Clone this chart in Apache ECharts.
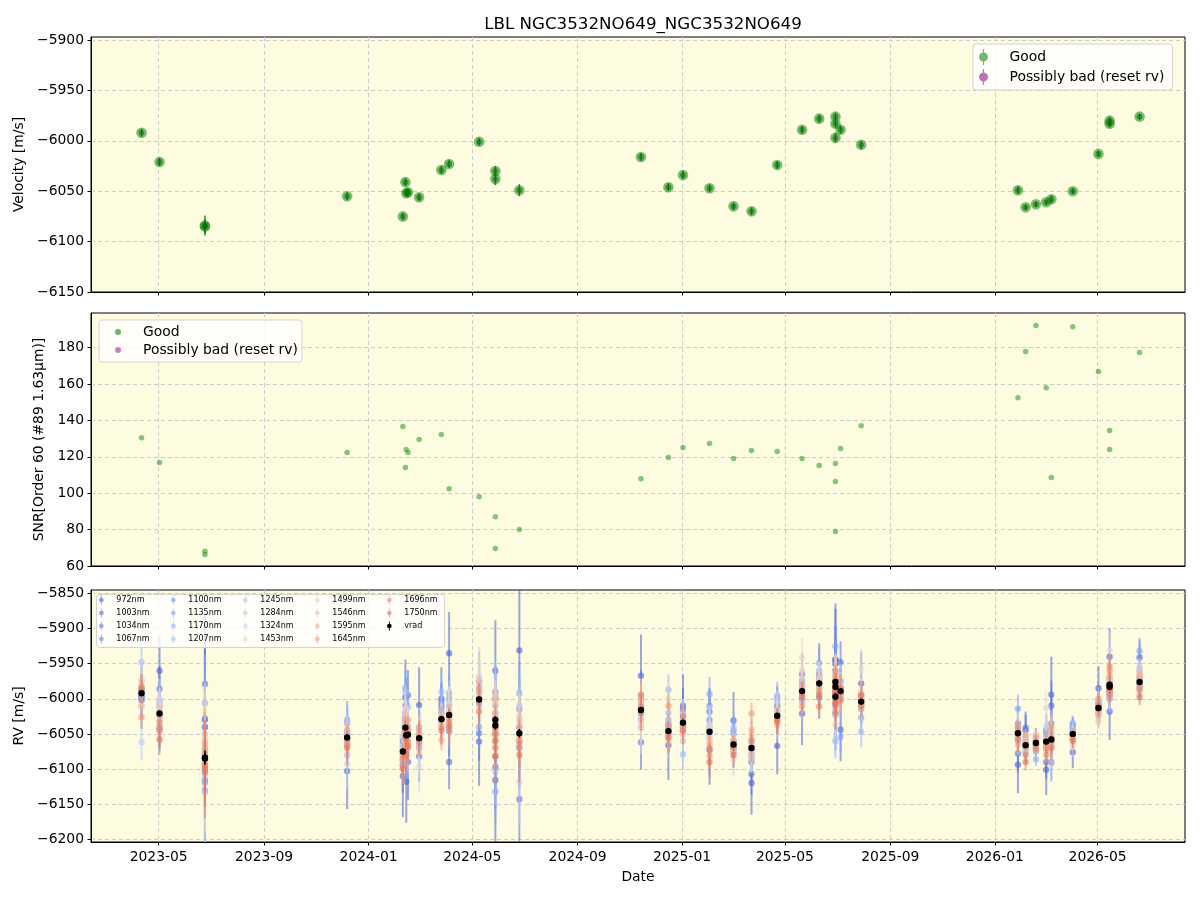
<!DOCTYPE html>
<html>
<head>
<meta charset="utf-8">
<script src="https://cdn.jsdelivr.net/npm/echarts@6/dist/echarts.min.js"></script>
<style>
  html, body { margin: 0; background: #fff; }
  #chart { width: 1200px; height: 900px; }
</style>
</head>
<body>
<div id="chart"></div>
<script>
// observation dates (one per epoch)
const dates = [
  '2023-04-11', '2023-05-02', '2023-06-24', '2023-06-24', '2023-12-07',
  '2024-02-10', '2024-02-13', '2024-02-14', '2024-02-16', '2024-02-29',
  '2024-03-26', '2024-04-04', '2024-05-09', '2024-05-28', '2024-05-28',
  '2024-06-25', '2024-11-14', '2024-12-16', '2025-01-02', '2025-02-02',
  '2025-03-02', '2025-03-23', '2025-04-22', '2025-05-21', '2025-06-10',
  '2025-06-29', '2025-06-29', '2025-06-29', '2025-07-05', '2025-07-29',
  '2026-01-28', '2026-02-06', '2026-02-18', '2026-03-02', '2026-03-08',
  '2026-04-02', '2026-05-02', '2026-05-15', '2026-05-15', '2026-06-19'
];

const vrad = [
  -5992, -6021, -6084, -6085, -6055, -6075, -6041, -6052, -6051, -6056,
  -6029, -6023, -6001, -6030, -6038, -6049, -6016, -6046, -6034, -6047,
  -6065, -6070, -6024, -5989, -5978, -5976, -5983, -5997, -5989, -6004,
  -6049, -6066, -6063, -6061, -6058, -6050, -6013, -5980, -5983, -5976
];
const vradErr = [
  4, 4, 10, 7, 4, 4, 4, 4, 4, 4,
  4, 4, 4, 5, 6, 6, 4, 4, 4, 4,
  4, 4, 4, 4, 4, 4, 4, 5, 4, 4,
  4, 3, 3, 3, 4, 3, 3, 4, 4, 3
];

const snr = [
  130.5, 116.8, 68.1, 66.3, 122.3, 136.6, 114.1, 124.0, 122.3, 129.5,
  132.2, 102.5, 98.1, 87.1, 69.6, 80.0, 108.0, 119.6, 125.1, 127.3,
  119.0, 123.4, 122.9, 119.0, 115.2, 116.3, 106.4, 78.9, 124.5, 137.1,
  152.5, 177.8, 192.1, 158.0, 108.6, 191.5, 166.8, 134.4, 124.0, 177.3
];

// per-band RVs
const bands = ['972nm', '1003nm', '1034nm', '1067nm', '1100nm', '1135nm', '1170nm', '1207nm', '1245nm',
  '1284nm', '1324nm', '1453nm', '1499nm', '1546nm', '1595nm', '1645nm', '1696nm', '1750nm'];
const rv972 = [-5998, -5960, -6040, -6030, -6103, -6110, -5998, -6118, -6090, -6009, -6000, -5935, -6061, -5960, -6116, -5931, -5967, -6066, -6010, -6073, -6031, -6120, -6067, -6021, -5966, -5944, -5950, -5945, -6044, -5978, -6094, -6045, -6065, -6101, -5994, -6076, -5985, -5940, -6018, -5941];
const rv1003 = [-5995, -5986, -5979, -6100, -6060, -6095, -6030, -6008, -5995, -6082, -6010, -6090, -5975, -6000, -6097, -6143, -6062, -6037, -6015, -6018, -6060, -6107, -6010, -5965, -5998, -5960, -5990, -6020, -5948, -6005, -6078, -6041, -6070, -6090, -6010, -6050, -6005, -5975, -5980, -5970];
const rv1034 = [-6002, -6044, -6118, -6080, -6050, -6060, -6020, -6075, -6040, -6050, -6004, -6046, -6049, -6020, -6082, -6070, -5995, -6045, -6025, -6030, -6070, -6090, -6025, -5990, -5985, -5970, -5975, -6005, -5985, -5995, -6040, -6060, -6060, -6045, -6035, -6045, -6015, -5985, -5970, -5985];
const rv1067 = [-5990, -6040, -6028, -6070, -6065, -6088, -6060, -6035, -6060, -6060, -6020, -6010, -5985, -6045, -6050, -6040, -6000, -6050, -6040, -6045, -6075, -6080, -6015, -6000, -5970, -5985, -5995, -5990, -6000, -6010, -6035, -6070, -6055, -6060, -6065, -6040, -6010, -5990, -5995, -5960];
const rv1100 = [-6000, -6010, -6040, -6090, -6030, -6070, -5985, -6060, -6050, -6045, -6015, -6000, -5990, -5990, -6025, -6015, -6010, -6040, -6030, -6010, -6045, -6075, -6020, -5975, -5975, -5950, -5985, -6010, -5975, -6000, -6050, -6065, -6066, -6050, -6050, -6035, -6020, -5980, -5990, -5975];
const rv1135 = [-5985, -6020, -6130, -6115, -6035, -6065, -6010, -6045, -6030, -6070, -6025, -5992, -6040, -6010, -6132, -5992, -6020, -6030, -6045, -5993, -6050, -6060, -5996, -5980, -5949, -5925, -5960, -6000, -6054, -6027, -6014, -6055, -6075, -6055, -6090, -6038, -6008, -5995, -5985, -5932];
const rv1170 = [-5995, -6005, -6006, -6050, -6045, -6080, -6040, -6070, -6066, -6055, -6035, -6020, -6000, -6035, -6060, -6060, -6030, -5987, -6020, -6040, -6065, -6085, -6000, -5995, -5960, -5965, -6060, -6023, -5990, -6015, -6045, -6075, -6086, -6065, -6060, -6045, -6012, -5970, -6000, -5980];
const rv1207 = [-5948, -6015, -6133, -6120, -6080, -6090, -5990, -6050, -6012, -6065, -5990, -6040, -6010, -5995, -6070, -6010, -6040, -6020, -6079, -6055, -6040, -6070, -6005, -6005, -5980, -5990, -5970, -5995, -5985, -6047, -6055, -6060, -6060, -6048, -6092, -6050, -6025, -6000, -5980, -5955];
const rv1245 = [-5975, -6025, -6060, -6075, -6032, -6055, -6045, -6080, -6058, -6040, -6030, -6005, -5980, -6020, -6104, -6030, -6025, -6035, -6060, -6035, -6060, -6065, -6018, -5985, -5972, -5975, -5990, -6010, -5995, -6005, -6060, -6078, -6062, -6070, -6045, -6042, -6010, -5985, -5995, -5990];
const rv1284 = [-6062, -6000, -6100, -6095, -6050, -6075, -6020, -6055, -6040, -6060, -6020, -6015, -5995, -6040, -6035, -6050, -6005, -6055, -6035, -6050, -6070, -6080, -6022, -5995, -5990, -5980, -6000, -5985, -6000, -6010, -6040, -6070, -6058, -6040, -6055, -6055, -6018, -5990, -5975, -5965];
const rv1324 = [-6011, -6030, -6109, -6105, -6093, -6068, -6035, -6040, -6070, -6097, -6040, -6025, -5968, -6025, -6010, -6118, -6015, -6045, -6030, -6045, -6080, -6056, -6030, -5970, -5985, -6037, -5980, -6000, -5980, -6000, -6050, -6065, -6065, -6055, -6060, -6048, -6005, -5975, -5985, -5975];
const rv1453 = [-5972, -6015, -6090, -6085, -6060, -6085, -6015, -6060, -6045, -6075, -6035, -6020, -5970, -6030, -6045, -6045, -6042, -6000, -6040, -6040, -6086, -6075, -6015, -5941, -5975, -5985, -5978, -5998, -5990, -5957, -6045, -6072, -6070, -6013, -6065, -6068, -6020, -5931, -5970, -5960];
const rv1499 = [-5980, -6008, -6050, -6070, -6055, -6080, -6025, -6030, -6055, -6050, -6025, -6008, -5975, -6005, -6020, -6035, -6035, -6050, -6035, -6055, -6075, -6085, -6020, -5960, -5968, -5970, -5985, -6005, -5985, -5990, -6055, -6060, -6060, -6060, -6050, -6052, -6015, -5965, -5975, -5978];
const rv1546 = [-6010, -6030, -6058, -6062, -6065, -6072, -6040, -6048, -6050, -6047, -6030, -6030, -5985, -5998, -6055, -6025, -5998, -6060, -6042, -6060, -6065, -6050, -6025, -5978, -5978, -5962, -5972, -5990, -5992, -5998, -6050, -6062, -6051, -6065, -6055, -6055, -6032, -5970, -5985, -5970];
const rv1595 = [-5982, -6025, -6065, -6088, -6044, -6082, -6030, -6065, -6062, -6040, -6059, -6033, -5990, -6044, -6030, -6055, -6006, -6040, -6051, -6065, -6060, -6044, -6030, -5985, -5985, -5968, -5980, -6000, -5995, -6004, -6065, -6052, -6055, -6073, -6062, -6054, -6022, -5990, -5980, -5965];
const rv1645 = [-6026, -6045, -6075, -6080, -6066, -6095, -6050, -6070, -6052, -6058, -6040, -6028, -6000, -6035, -6069, -6060, -5994, -6010, -6038, -6081, -6070, -6021, -6037, -6011, -5991, -5975, -5992, -6015, -5988, -6008, -6042, -6068, -6068, -6070, -6040, -6058, -6000, -5960, -5995, -5987];
const rv1696 = [-5990, -6034, -6094, -6095, -6058, -6085, -6045, -6058, -6045, -6062, -6028, -6035, -6018, -6050, -6040, -6065, -6012, -6048, -6025, -6070, -6068, -6060, -6028, -5992, -6011, -5980, -5985, -5995, -6003, -6011, -6048, -6080, -6071, -6080, -6058, -6050, -6015, -5954, -5990, -5980];
const rv1750 = [-5985, -6058, -6100, -6105, -6070, -6100, -6055, -6080, -6068, -6055, -6045, -6040, -6005, -6060, -6082, -6080, -6020, -6055, -6045, -6090, -6080, -6070, -6032, -5997, -5995, -5990, -6005, -6008, -5985, -5995, -6058, -6090, -6062, -6062, -6070, -6060, -6010, -5980, -5985, -5997];
const bandRv = [rv972, rv1003, rv1034, rv1067, rv1100, rv1135, rv1170, rv1207, rv1245,
  rv1284, rv1324, rv1453, rv1499, rv1546, rv1595, rv1645, rv1696, rv1750];

// typical error of each band and relative error size of each epoch
const bandErr = [45, 30, 28, 26, 22, 22, 20, 22, 24, 26, 30, 28, 20, 16, 15, 16, 17, 20];
const epochErrScale = [
  1.0, 1.1, 3.5, 2.2, 1.2, 1.3, 1.2, 1.3, 1.2, 1.2,
  1.0, 1.3, 1.4, 1.6, 2.0, 2.0, 1.3, 1.1, 1.0, 1.1,
  0.9, 1.0, 0.9, 1.0, 1.0, 1.6, 1.2, 1.8, 1.0, 1.0,
  0.9, 0.6, 0.5, 0.8, 1.2, 0.5, 0.7, 0.9, 0.9, 0.6
];

const bandColors = ['#4a63d3', '#5470de', '#5d7ce6', '#6788ee', '#7396f5', '#80a3fa', '#8db0fe', '#9bbcff', '#a9c6fd',
  '#b7cff9', '#c5d6f2', '#e6d7cf', '#efcfbf', '#f4c0a6', '#f6ae8f', '#f29b7c', '#eb8a6d', '#e0775f'];

const velTicks = [-6150, -6100, -6050, -6000, -5950, -5900];
const snrTicks = [60, 80, 100, 120, 140, 160, 180];
const rvTicks = [-6200, -6150, -6100, -6050, -6000, -5950, -5900, -5850];
const dateTicks = ['2023-05-01', '2023-09-01', '2024-01-01', '2024-05-01', '2024-09-01',
  '2025-01-01', '2025-05-01', '2025-09-01', '2026-01-01', '2026-05-01'];

function utc(s) {
  const p = s.split('-').map(Number);
  return Date.UTC(p[0], p[1] - 1, p[2]);
}
function rgba(hex, a) {
  const n = parseInt(hex.slice(1), 16);
  return 'rgba(' + (n >> 16) + ',' + ((n >> 8) & 255) + ',' + (n & 255) + ',' + a + ')';
}
const minus = v => (v < 0 ? '\u2212' + Math.abs(v) : String(v));

const tMin = utc('2023-02-11');
const tMax = utc('2026-08-11');
const times = dates.map(utc);
const dateTickVals = dateTicks.map(utc);

const FONT = 'DejaVu Sans';
const gridBg = '#fdfbe0';
const splitStyle = { color: '#cccccc', type: [4, 3], width: 1 };

const grids = [
  { left: 91, top: 37, width: 1094, height: 255 },
  { left: 91, top: 313, width: 1094, height: 253 },
  { left: 91, top: 590, width: 1094, height: 252 }
].map(g => Object.assign(g, {
  show: true, backgroundColor: gridBg, borderColor: '#000', borderWidth: 1,
  containLabel: false, outerBoundsMode: 'none'
}));

function xAxisCfg(i) {
  const last = i === 2;
  return {
    type: 'value', gridIndex: i, min: tMin, max: tMax,
    name: last ? 'Date' : '', nameLocation: 'middle', nameGap: 28,
    nameTextStyle: { fontSize: 13.9, color: '#000', fontFamily: FONT },
    axisLine: { show: true, onZero: false, lineStyle: { color: '#000' } },
    axisTick: { show: true, length: 3.5, customValues: dateTickVals, lineStyle: { color: '#000' } },
    axisLabel: {
      show: last, customValues: dateTickVals, margin: 8, fontSize: 13.9, color: '#000', fontFamily: FONT,
      formatter: v => {
        const d = new Date(v);
        return d.getUTCFullYear() + '-' + String(d.getUTCMonth() + 1).padStart(2, '0');
      }
    },
    splitLine: { show: true, lineStyle: splitStyle }
  };
}

function yAxisCfg(i, min, max, ticks, name, nameGap) {
  return {
    type: 'value', gridIndex: i, min: min, max: max,
    name: name, nameLocation: 'middle', nameGap: nameGap,
    nameTextStyle: { fontSize: 13.9, color: '#000', fontFamily: FONT },
    axisLine: { show: true, onZero: false, lineStyle: { color: '#000' } },
    axisTick: { show: true, length: 3.5, customValues: ticks, lineStyle: { color: '#000' } },
    axisLabel: { customValues: ticks, margin: 7, fontSize: 13.9, color: '#000', fontFamily: FONT, formatter: minus },
    splitLine: { show: true, lineStyle: splitStyle }
  };
}

// error bar + marker drawn through the axes
function errRenderer(fill, stroke, r, lw, inner) {
  return function (params, api) {
    const t = api.value(0), v = api.value(1), e = api.value(2);
    const c = api.coord([t, v]);
    const hi = api.coord([t, v + e]);
    const lo = api.coord([t, v - e]);
    const kids = [
      { type: 'line', shape: { x1: c[0], y1: hi[1], x2: c[0], y2: lo[1] }, style: { stroke: stroke, lineWidth: lw } },
      { type: 'circle', shape: { cx: c[0], cy: c[1], r: r }, style: { fill: fill } }
    ];
    if (inner) {
      kids.push({ type: 'circle', shape: { cx: c[0], cy: c[1], r: r * 0.55 }, style: { fill: inner } });
    }
    return { type: 'group', children: kids };
  };
}

const errIcon = 'path://M4.4,0H5.6V16H4.4Z M9.5,8A4.5,4.5 0 1 1 0.5,8A4.5,4.5 0 1 1 9.5,8Z';
const smallErrIcon = 'path://M2.5,0H3.5V10H2.5Z M5.6,5A2.6,2.6 0 1 1 0.4,5A2.6,2.6 0 1 1 5.6,5Z';

const green = 'rgba(0,128,0,0.55)';
const purple = 'rgba(128,0,128,0.55)';

const series = [];

// panel 1: velocity
series.push({
  name: 'Good', type: 'custom', xAxisIndex: 0, yAxisIndex: 0, clip: true,
  itemStyle: { color: green },
  encode: { x: 0, y: 1 },
  data: times.map((t, i) => [t, vrad[i], vradErr[i]]),
  renderItem: errRenderer('rgba(0,128,0,0.5)', 'rgba(0,110,0,0.8)', 5.3, 1.5, 'rgba(0,110,0,0.55)')
});
series.push({
  name: 'Possibly bad (reset rv)', type: 'custom', xAxisIndex: 0, yAxisIndex: 0,
  itemStyle: { color: purple }, data: [],
  renderItem: errRenderer(purple, purple, 5, 1.5)
});

// panel 2: SNR
series.push({
  name: 'Good', type: 'scatter', xAxisIndex: 1, yAxisIndex: 1,
  symbolSize: 5.5, itemStyle: { color: 'rgba(0,140,0,0.6)' },
  data: times.map((t, i) => [t, snr[i]])
});
series.push({
  name: 'Possibly bad (reset rv)', type: 'scatter', xAxisIndex: 1, yAxisIndex: 1,
  symbolSize: 5.5, itemStyle: { color: 'rgba(170,40,170,0.6)' }, data: []
});

// panel 3: per-band RVs
bands.forEach((b, k) => {
  const col = bandColors[k];
  series.push({
    name: b, type: 'custom', xAxisIndex: 2, yAxisIndex: 2, clip: true,
    itemStyle: { color: rgba(col, 0.65) },
    encode: { x: 0, y: 1 },
    data: times.map((t, i) => [t, bandRv[k][i], bandErr[k] * epochErrScale[i]]),
    renderItem: errRenderer(rgba(col, 0.6), rgba(col, 0.55), 3.2, 2)
  });
});
series.push({
  name: 'vrad', type: 'custom', xAxisIndex: 2, yAxisIndex: 2, clip: true, z: 5,
  itemStyle: { color: '#000' },
  encode: { x: 0, y: 1 },
  data: times.map((t, i) => [t, vrad[i], vradErr[i]]),
  renderItem: errRenderer('#000', '#000', 3.2, 1.5)
});

const legendText = { fontSize: 13.9, color: '#000', fontFamily: FONT };
const legends = [
  {
    left: 973, top: 44, orient: 'vertical', selectedMode: false,
    padding: [5, 8, 5, 6], itemWidth: 28, itemHeight: 16, itemGap: 4,
    backgroundColor: 'rgba(255,255,255,0.8)', borderColor: '#d3d3d3', borderWidth: 1, borderRadius: 3,
    textStyle: Object.assign({ padding: [0, 0, 0, 7] }, legendText),
    data: [{ name: 'Good', icon: errIcon, itemStyle: { color: green } },
           { name: 'Possibly bad (reset rv)', icon: errIcon, itemStyle: { color: purple } }]
  },
  {
    left: 99, top: 320, orient: 'vertical', selectedMode: false,
    padding: [5, 4, 5, 16], itemWidth: 6, itemHeight: 16, itemGap: 4,
    backgroundColor: 'rgba(255,255,255,0.8)', borderColor: '#d3d3d3', borderWidth: 1, borderRadius: 3,
    textStyle: Object.assign({ padding: [0, 0, 0, 17] }, legendText),
    data: [{ name: 'Good', icon: 'circle', itemStyle: { color: 'rgba(0,140,0,0.6)' } },
           { name: 'Possibly bad (reset rv)', icon: 'circle', itemStyle: { color: 'rgba(170,40,170,0.6)' } }]
  }
];

// five-column legend of panel 3
const legendNames = bands.concat(['vrad']);
const colX = [106, 178, 250, 322, 394];
for (let c = 0; c < 5; c++) {
  legends.push({
    left: colX[c] - 7, top: 595.5, orient: 'vertical', selectedMode: false, z: 12,
    padding: 0, itemWidth: 14, itemHeight: 9, itemGap: 4,
    textStyle: { fontSize: 8, color: '#000', fontFamily: FONT, padding: [0, 0, 0, 3] },
    data: legendNames.slice(c * 4, c * 4 + 4).map(n => ({ name: n, icon: smallErrIcon }))
  });
}

const chart = echarts.init(document.getElementById('chart'), null, { renderer: 'canvas' });
chart.setOption({
  animation: false,
  backgroundColor: '#fff',
  textStyle: { fontFamily: FONT },
  title: {
    text: 'LBL NGC3532NO649_NGC3532NO649', left: 638, top: 11, textAlign: 'center',
    textStyle: { fontSize: 16.7, fontWeight: 'normal', color: '#000', fontFamily: FONT }
  },
  grid: grids,
  xAxis: [xAxisCfg(0), xAxisCfg(1), xAxisCfg(2)],
  yAxis: [
    yAxisCfg(0, -6150, -5897, velTicks, 'Velocity [m/s]', 62),
    yAxisCfg(1, 60, 199, snrTicks, 'SNR[Order 60 (#89 1.63\u03bcm)]', 45),
    yAxisCfg(2, -6204, -5845, rvTicks, 'RV [m/s]', 62)
  ],
  legend: legends,
  graphic: [{
    type: 'rect', left: 96, top: 594, z: 11,
    shape: { width: 348, height: 53, r: 3 },
    style: { fill: 'rgba(255,255,255,0.8)', stroke: '#d3d3d3', lineWidth: 1 }
  }],
  series: series
});
</script>
</body>
</html>
